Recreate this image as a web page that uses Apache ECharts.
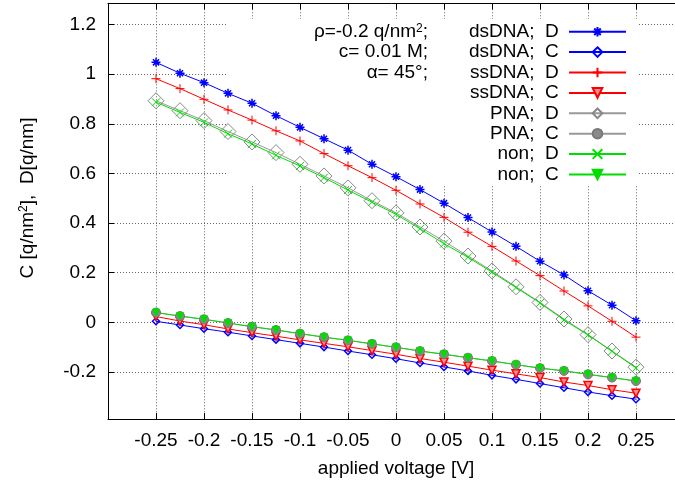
<!DOCTYPE html>
<html><head><meta charset="utf-8">
<script src="https://cdn.jsdelivr.net/npm/echarts@6/dist/echarts.min.js"></script>
<style>html,body{margin:0;padding:0;background:#fff}#c{width:675px;height:489px}</style>
</head><body><div id="c"></div>
<script>
// ---- data ----
const voltages = [-0.25, -0.225, -0.2, -0.175, -0.15, -0.125, -0.1, -0.075, -0.05, -0.025, 0, 0.025, 0.05, 0.075, 0.1, 0.125, 0.15, 0.175, 0.2, 0.225, 0.25];
const dsDNA_D = [1.048, 1.004, 0.966, 0.923, 0.883, 0.833, 0.786, 0.740, 0.694, 0.637, 0.587, 0.535, 0.480, 0.422, 0.364, 0.306, 0.246, 0.191, 0.127, 0.069, 0.006];
const dsDNA_C = [0.004, -0.011, -0.026, -0.040, -0.055, -0.070, -0.085, -0.100, -0.116, -0.131, -0.147, -0.164, -0.180, -0.196, -0.214, -0.230, -0.247, -0.264, -0.281, -0.296, -0.310];
const ssDNA_D = [0.982, 0.942, 0.899, 0.856, 0.815, 0.772, 0.731, 0.680, 0.631, 0.583, 0.532, 0.477, 0.423, 0.363, 0.306, 0.247, 0.188, 0.126, 0.066, 0.004, -0.060];
const ssDNA_C = [0.023, 0.005, -0.010, -0.027, -0.042, -0.056, -0.071, -0.085, -0.099, -0.114, -0.129, -0.146, -0.161, -0.177, -0.193, -0.208, -0.223, -0.241, -0.255, -0.272, -0.286];
const PNA_D = [0.893, 0.853, 0.813, 0.769, 0.727, 0.684, 0.637, 0.590, 0.542, 0.490, 0.441, 0.384, 0.327, 0.267, 0.207, 0.143, 0.080, 0.013, -0.050, -0.116, -0.181];
const PNA_C = [0.039, 0.025, 0.012, -0.003, -0.018, -0.031, -0.046, -0.060, -0.073, -0.087, -0.101, -0.116, -0.129, -0.143, -0.156, -0.171, -0.185, -0.196, -0.210, -0.223, -0.237];
const non_D = [0.887, 0.846, 0.806, 0.760, 0.719, 0.673, 0.630, 0.583, 0.533, 0.484, 0.435, 0.377, 0.317, 0.262, 0.202, 0.140, 0.078, 0.009, -0.051, -0.117, -0.184];
const non_C = [0.039, 0.025, 0.012, -0.003, -0.018, -0.031, -0.046, -0.060, -0.073, -0.087, -0.101, -0.116, -0.129, -0.143, -0.156, -0.171, -0.185, -0.196, -0.210, -0.223, -0.237];
const seriesNames = ['dsDNA;  D', 'dsDNA;  C', 'ssDNA;  D', 'ssDNA;  C', 'PNA;  D', 'PNA;  C', 'non;  D', 'non;  C'];
const yTicks = [-0.2, 0, 0.2, 0.4, 0.6, 0.8, 1, 1.2];
const xTickLabels = [-0.25, -0.2, -0.15, -0.1, -0.05, 0, 0.05, 0.1, 0.15, 0.2, 0.25];

// ---- styling ----
const FONT = 'Liberation Sans, Arial, sans-serif';
const FS = 19;
const BLUE = '#0000ff', RED = '#ff0000', GRAY = '#999999', GREEN = '#00dd00';
const asterisk = 'path://M5 0L5 10M0 5L10 5M1.6 1.6L8.4 8.4M1.6 8.4L8.4 1.6';
const plus = 'path://M5 0L5 10M0 5L10 5';
const cross = 'path://M0 0L10 10M0 10L10 0';
const gridLine = {show: true, lineStyle: {color: '#666', width: 1, type: [1, 2]}};

function mk(name, vals, color, symbol, size, fill, borderColor, bw, rotate) {
  return {
    type: 'line', name: name,
    data: voltages.map((v, i) => [v, vals[i]]),
    symbol: symbol, symbolSize: size, symbolRotate: rotate || 0,
    lineStyle: {color: color, width: 1},
    itemStyle: {color: fill, borderColor: borderColor, borderWidth: bw},
    emphasis: {disabled: true},
    z: 2
  };
}

const series = [
  mk(seriesNames[0], dsDNA_D, BLUE, asterisk, 9, BLUE, BLUE, 1.5),
  mk(seriesNames[1], dsDNA_C, BLUE, 'diamond', 7, 'rgba(255,255,255,0)', BLUE, 1.5),
  mk(seriesNames[2], ssDNA_D, RED, plus, 9, RED, RED, 1),
  mk(seriesNames[3], ssDNA_C, RED, 'triangle', 8, '#ff8c8c', RED, 1.5, 180),
  mk(seriesNames[4], PNA_D, GRAY, 'diamond', 16, 'rgba(255,255,255,0)', '#888', 1),
  mk(seriesNames[5], PNA_C, GRAY, 'circle', 9, '#8a8a8a', '#777', 1),
  mk(seriesNames[6], non_D, GREEN, cross, 8, GREEN, GREEN, 1),
  mk(seriesNames[7], non_C, GREEN, 'triangle', 7, GREEN, GREEN, 1, 180)
];

function fmt(v) { return String(parseFloat(v.toFixed(3))); }

const chart = echarts.init(document.getElementById('c'), null, {renderer: 'canvas'});
chart.setOption({
  animation: false,
  backgroundColor: '#fff',
  grid: {left: 108, top: 3.3, width: 576, height: 415.7, containLabel: false, outerBoundsMode: 'none'},
  xAxis: [{
    type: 'value', min: -0.3, max: 0.3, interval: 0.05, position: 'bottom',
    axisLine: {show: true, onZero: false, lineStyle: {color: '#000', width: 1}},
    axisTick: {show: true, inside: true, length: 6, lineStyle: {color: '#000'}},
    axisLabel: {
      fontFamily: FONT, fontSize: FS, color: '#000', margin: 12,
      formatter: v => (xTickLabels.some(t => Math.abs(t - v) < 1e-6) ? fmt(v) : '')
    },
    splitLine: gridLine
  }, {
    type: 'value', min: -0.3, max: 0.3, interval: 0.05, position: 'top',
    axisLine: {show: true, onZero: false, lineStyle: {color: '#000', width: 1}},
    axisTick: {show: true, inside: true, length: 6, lineStyle: {color: '#000'}},
    axisLabel: {show: false}, splitLine: {show: false}
  }],
  yAxis: [{
    type: 'value', min: -0.39, max: 1.286, position: 'left',
    axisLine: {show: true, onZero: false, lineStyle: {color: '#000', width: 1}},
    axisTick: {show: true, inside: true, length: 6, customValues: yTicks, lineStyle: {color: '#000'}},
    axisLabel: {customValues: yTicks, fontFamily: FONT, fontSize: FS, color: '#000', margin: 12, formatter: v => fmt(v)},
    splitLine: gridLine
  }],
  legend: {
    orient: 'vertical', right: 48, top: 22.2, align: 'right', padding: 0,
    itemWidth: 57, itemHeight: 12, itemGap: 1.4, selectedMode: false,
    data: seriesNames,
    formatter: n => n + ' ',
    textStyle: {fontFamily: FONT, fontSize: FS, color: '#000'}
  },
  graphic: [
    {type: 'rect', z: 1, silent: true, shape: {x: 227, y: 19, width: 411, height: 166}, style: {fill: '#fff'}},
    {type: 'text', z: 5, x: 428, y: 31.7, style: {text: 'ρ=-0.2 q/nm{s|2};', rich: {s: {fontSize: 12, fontFamily: FONT, verticalAlign: 'top', fill: '#000'}}, fontFamily: FONT, fontSize: FS, fill: '#000', align: 'right', verticalAlign: 'middle'}},
    {type: 'text', z: 5, x: 428, y: 52.1, style: {text: 'c= 0.01 M;', fontFamily: FONT, fontSize: FS, fill: '#000', align: 'right', verticalAlign: 'middle'}},
    {type: 'text', z: 5, x: 428, y: 72.5, style: {text: 'α= 45°;', fontFamily: FONT, fontSize: FS, fill: '#000', align: 'right', verticalAlign: 'middle'}},
    {type: 'text', z: 5, x: 396, y: 469, style: {text: 'applied voltage [V]', fontFamily: FONT, fontSize: FS, fill: '#000', align: 'center', verticalAlign: 'middle'}},
    {type: 'text', z: 5, x: 27.5, y: 198, rotation: Math.PI / 2, style: {text: 'C [q/nm{s|2}],  D[q/nm]', rich: {s: {fontSize: 12, fontFamily: FONT, verticalAlign: 'top', fill: '#000'}}, fontFamily: FONT, fontSize: FS, fill: '#000', align: 'center', verticalAlign: 'middle'}}
  ],
  series: series
});
</script></body></html>
